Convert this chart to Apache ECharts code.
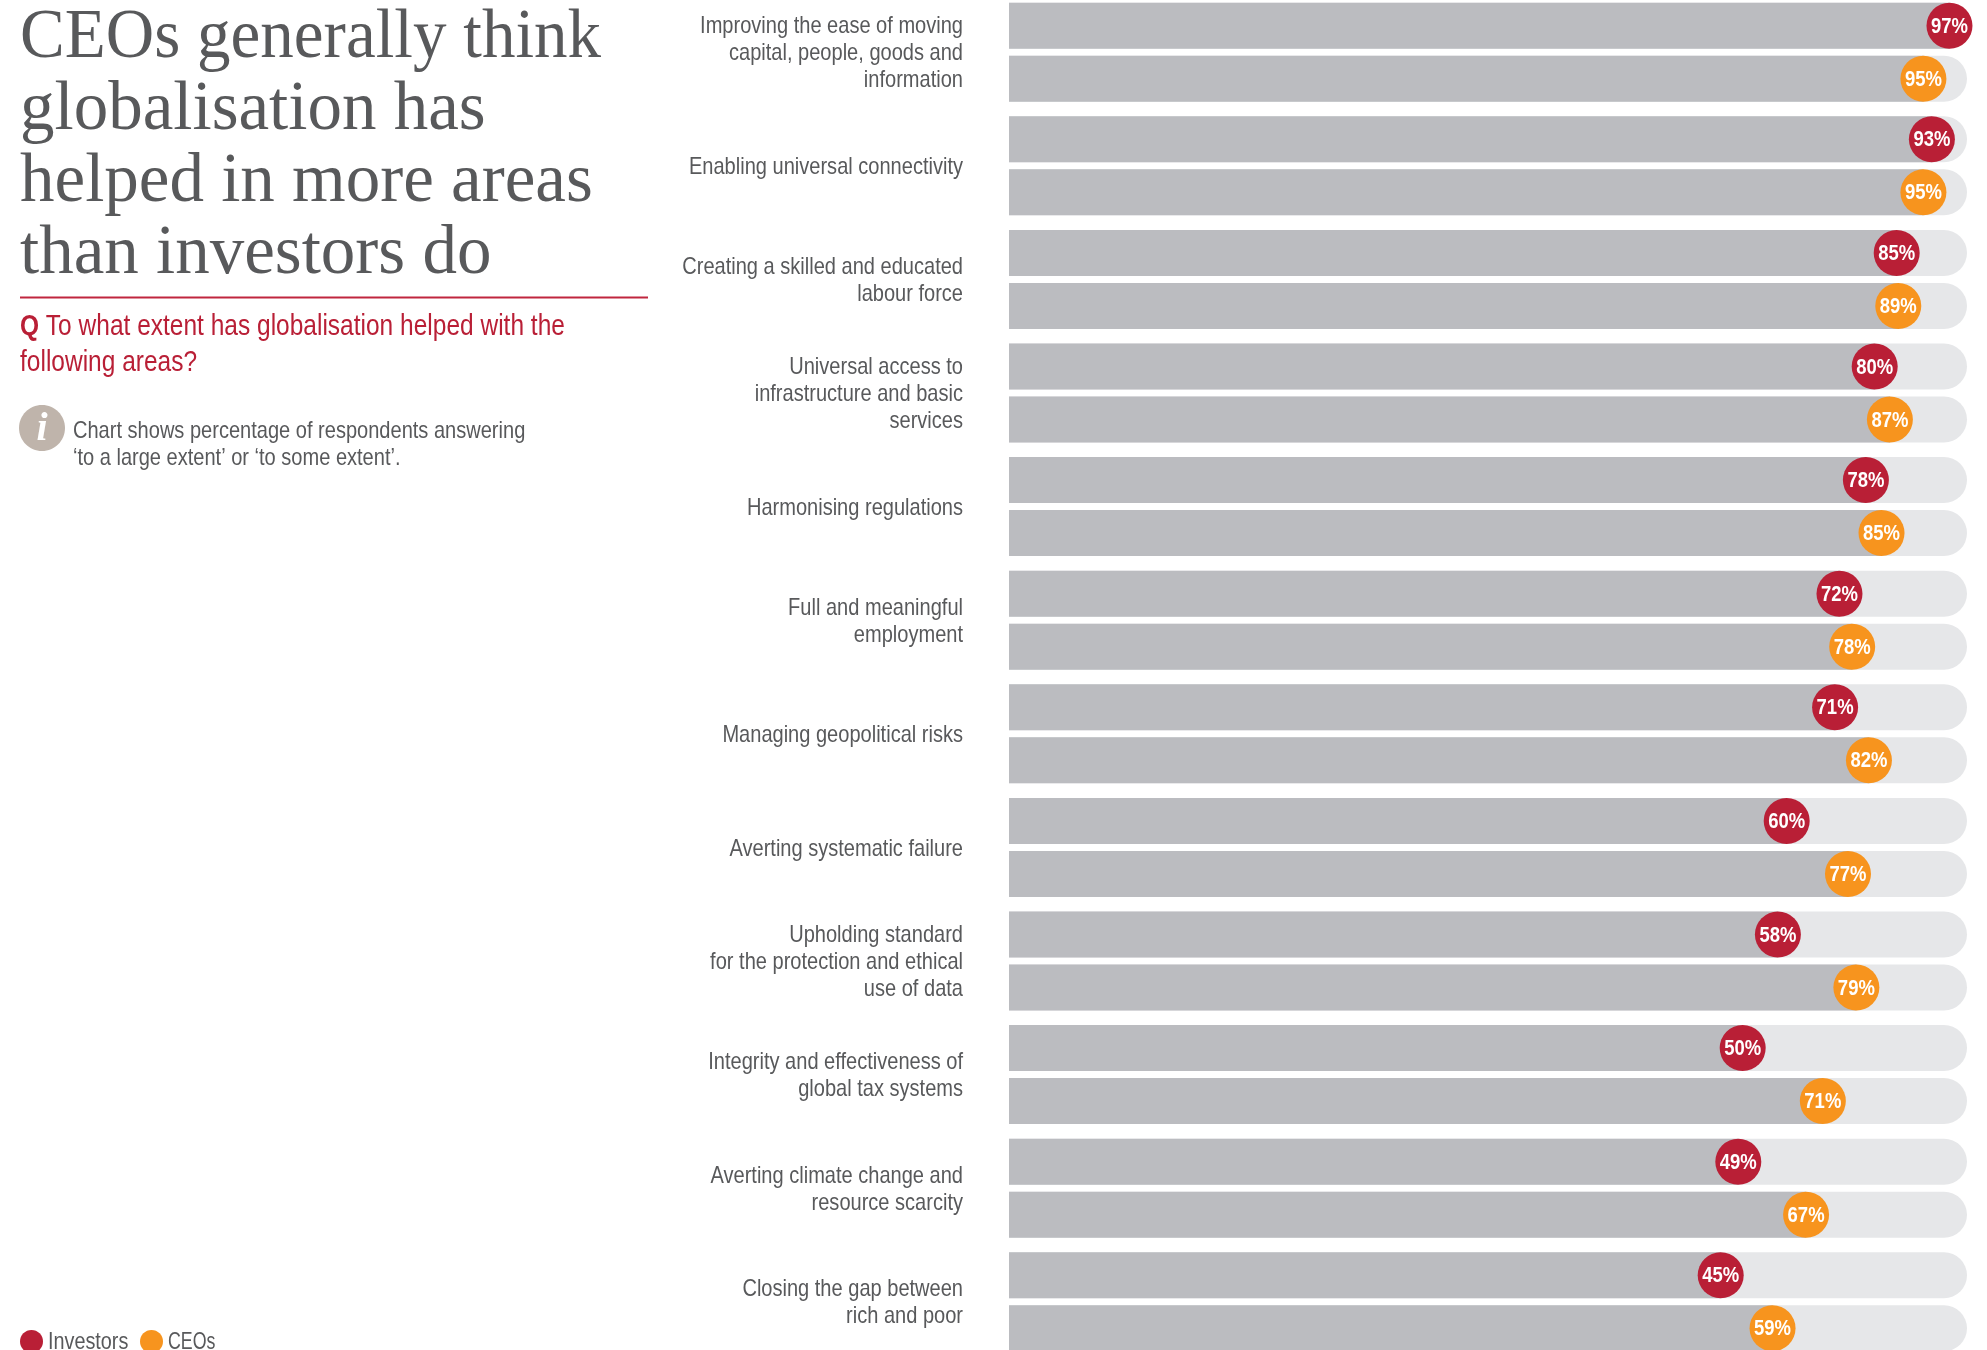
<!DOCTYPE html>
<html>
<head>
<meta charset="utf-8">
<style>html,body{margin:0;padding:0;background:#fff}#chart{width:1987px;height:1350px}</style>
<script src="https://cdn.jsdelivr.net/npm/echarts@6/dist/echarts.min.js"></script>
</head>
<body>
<div id="chart"></div>
<script>
const headline = ['CEOs generally think', 'globalisation has', 'helped in more areas', 'than investors do'];
const categories = [
  'Improving the ease of moving\ncapital, people, goods and\ninformation',
  'Enabling universal connectivity',
  'Creating a skilled and educated\nlabour force',
  'Universal access to\ninfrastructure and basic\nservices',
  'Harmonising regulations',
  'Full and meaningful\nemployment',
  'Managing geopolitical risks',
  'Averting systematic failure',
  'Upholding standard\nfor the protection and ethical\nuse of data',
  'Integrity and effectiveness of\nglobal tax systems',
  'Averting climate change and\nresource scarcity',
  'Closing the gap between\nrich and poor'
];
const investors = [97, 93, 85, 80, 78, 72, 71, 60, 58, 50, 49, 45];
const ceos = [95, 95, 89, 87, 85, 78, 82, 77, 79, 71, 67, 59];

const RED = '#b91f36', ORANGE = '#f7941e', INK = '#58595b';
const BAR = '#bbbcc0', TRACK = '#e6e7e9';
const SANS = '"Liberation Sans", sans-serif';
const SERIF = '"Liberation Serif", serif';
const ROW_OFFSET = 26.5, ROW_H = 46, DOT_R = 23;
// The sans face has no condensed cut, so running text is squeezed horizontally.
const SQUEEZE = 0.835;

// One row: pale rounded track, solid bar up to the value, then a value badge.
function rowRenderer(color, dy) {
  return function (params, api) {
    const grid = params.coordSys;
    const p = api.coord([api.value(0), api.value(1)]);
    const cy = p[1] + dy;
    const top = cy - ROW_H / 2;
    return {
      type: 'group',
      children: [
        { type: 'rect',
          shape: { x: grid.x, y: top, width: grid.width, height: ROW_H, r: [0, ROW_H / 2, ROW_H / 2, 0] },
          style: { fill: TRACK } },
        { type: 'rect',
          shape: { x: grid.x, y: top, width: p[0] - grid.x, height: ROW_H },
          style: { fill: BAR } },
        { type: 'circle',
          shape: { cx: p[0], cy: cy, r: DOT_R },
          style: { fill: color } },
        { type: 'text', x: p[0], y: cy + 1, scaleX: 0.84,
          style: { text: api.value(0) + '%', fill: '#fff',
                   font: 'bold 22px ' + SANS, align: 'center', verticalAlign: 'middle' } }
      ]
    };
  };
}

// Category names, right-aligned against the bars and centred on each pair of rows.
function labelRenderer(params, api) {
  const grid = params.coordSys;
  const p = api.coord([0, api.value(0)]);
  return {
    type: 'text', x: grid.x - 46, y: p[1] + 1.5, scaleX: SQUEEZE,
    style: { text: categories[params.dataIndex], fill: INK, font: '24px ' + SANS,
             lineHeight: 27, align: 'right', verticalAlign: 'middle' }
  };
}

const toRows = values => values.map((v, i) => [v, i]);

const headlineText = headline.map((line, i) => ({
  type: 'text', x: 20, y: 39 + i * 72, scaleX: i === 0 ? 0.972 : 1,
  style: { text: line, fill: INK, font: '69px ' + SERIF, verticalAlign: 'middle' }
}));

const chart = echarts.init(document.getElementById('chart'), null, { renderer: 'canvas' });
chart.setOption({
  animation: false,
  backgroundColor: '#fff',
  grid: { left: 1009, width: 958, top: -4.6, height: 1363.2, outerBoundsMode: 'none' },
  // The two value scales sit a little apart, as the badges do across the rows.
  xAxis: [
    { type: 'value', min: -116.75, max: 100.98, show: false },
    { type: 'value', min: -123.2, max: 105.4, show: false }
  ],
  yAxis: {
    type: 'category', inverse: true, data: categories,
    axisLine: { show: false }, axisTick: { show: false }, splitLine: { show: false },
    axisLabel: { show: false }
  },
  series: [
    { name: 'Labels', type: 'custom', xAxisIndex: 0, yAxisIndex: 0, clip: false,
      encode: { y: 0 }, renderItem: labelRenderer, data: categories.map((c, i) => [i]) },
    { name: 'Investors', type: 'custom', xAxisIndex: 0, yAxisIndex: 0,
      itemStyle: { color: RED }, encode: { x: 0, y: 1 },
      renderItem: rowRenderer(RED, -ROW_OFFSET), data: toRows(investors) },
    { name: 'CEOs', type: 'custom', xAxisIndex: 1, yAxisIndex: 0,
      itemStyle: { color: ORANGE }, encode: { x: 0, y: 1 },
      renderItem: rowRenderer(ORANGE, ROW_OFFSET), data: toRows(ceos) }
  ],
  graphic: headlineText.concat([
    { type: 'line', shape: { x1: 20, y1: 297.5, x2: 648, y2: 297.5 }, style: { stroke: '#c0263f', lineWidth: 2 } },
    { type: 'text', x: 20, y: 309, scaleX: 0.845,
      style: {
        text: '{q|Q} To what extent has globalisation helped with the\nfollowing areas?',
        fill: RED, font: '29px ' + SANS, lineHeight: 36,
        rich: { q: { fill: RED, font: 'bold 29px ' + SANS, lineHeight: 36 } }
      } },
    { type: 'ellipse', shape: { cx: 42, cy: 428, rx: 23, ry: 23 }, style: { fill: '#bfb4ab' } },
    { type: 'text', x: 42, y: 430,
      style: { text: 'i', fill: '#fff', font: 'italic bold 40px ' + SERIF, align: 'center', verticalAlign: 'middle' } },
    { type: 'text', x: 73, y: 418, scaleX: SQUEEZE,
      style: {
        text: 'Chart shows percentage of respondents answering\n\u2018to a large extent\u2019 or \u2018to some extent\u2019.',
        fill: INK, font: '24px ' + SANS, lineHeight: 27
      } },
    // Key for the two respondent groups
    { type: 'circle', shape: { cx: 31.5, cy: 1341.5, r: 11.5 }, style: { fill: RED } },
    { type: 'text', x: 48, y: 1342, scaleX: 0.825,
      style: { text: 'Investors', fill: INK, font: '24px ' + SANS, verticalAlign: 'middle' } },
    { type: 'circle', shape: { cx: 151.5, cy: 1341.5, r: 11.5 }, style: { fill: ORANGE } },
    { type: 'text', x: 168, y: 1342, scaleX: 0.74,
      style: { text: 'CEOs', fill: INK, font: '24px ' + SANS, verticalAlign: 'middle' } }
  ])
});
</script>
</body>
</html>
